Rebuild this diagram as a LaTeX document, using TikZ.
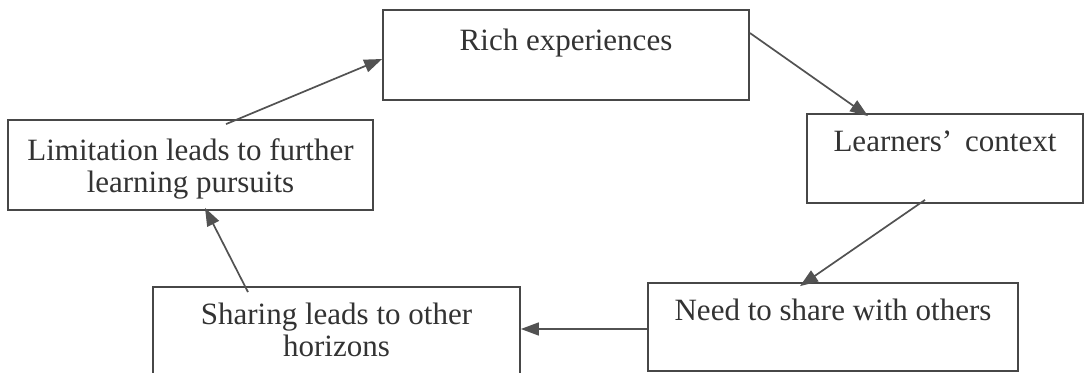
\documentclass[tikz,border=0pt]{standalone}
\usepackage{fontspec}
\setmainfont{Liberation Serif}
\usetikzlibrary{arrows.meta}
\begin{document}
\begin{tikzpicture}[x=0.5pt,y=-0.5pt,
  box/.style={draw=black!72,line width=0.9pt,rectangle,inner sep=0pt},
  txt/.style={anchor=north,inner sep=0pt,align=center,text=black!80,
    font=\fontsize{15.5pt}{16.3pt}\selectfont},
  arr/.style={draw=black!68,line width=0.85pt,-{Triangle[length=9pt,width=6.5pt]}}]
\clip (0,0) rectangle (1087,373);
\fill[white] (0,0) rectangle (1087,373);
% boxes
\node[box,minimum width=183pt,minimum height=45pt] (rich) at (566,55) {};
\node[box,minimum width=138pt,minimum height=44.5pt] (learn) at (945,158.5) {};
\node[box,minimum width=185pt,minimum height=44pt] (need) at (833,327) {};
\node[box,minimum width=183.5pt,minimum height=54pt] (share) at (336.5,341) {};
\node[box,minimum width=182.5pt,minimum height=45pt] (lim) at (190.5,165) {};
% texts
\node[txt] (richt) at ([yshift=-9.5pt]rich.north) {Rich experiences};
\node[txt] (learnt) at ([yshift=-8.5pt]learn.north) {Learners'\ \,context};
\node[txt] (needt) at ([yshift=-8pt]need.north) {Need to share with others};
\node[txt] (sharet) at ([yshift=-8pt]share.north) {Sharing leads to other\\horizons};
\node[txt] (limt) at ([yshift=-9.5pt]lim.north) {Limitation leads to further\\learning pursuits};
% connectors
\draw[arr] ([xshift=17.75pt,yshift=-2.5pt]lim.north) -- ([yshift=-2pt]rich.west);
\draw[arr] ([yshift=11pt]rich.east) -- ([xshift=-38.5pt,yshift=-1.5pt]learn.north);
\draw[arr] ([xshift=-10pt,yshift=2pt]learn.south) -- ([xshift=-16.5pt,yshift=-2pt]need.north);
\draw[arr] ([yshift=-1pt]need.west) -- ([yshift=6pt]share.east);
\draw[arr] ([xshift=-44.25pt,yshift=-3pt]share.north) -- ([xshift=7.25pt,yshift=1.5pt]lim.south);
\end{tikzpicture}
\end{document}
